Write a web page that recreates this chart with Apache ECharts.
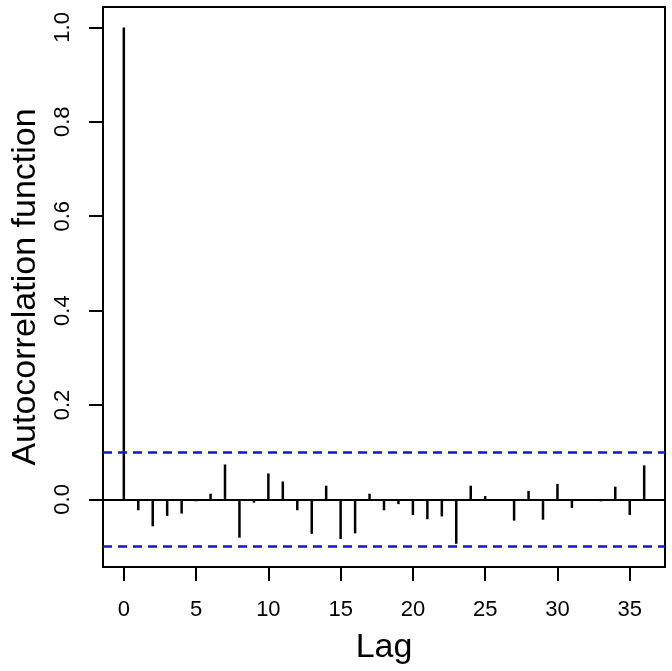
<!DOCTYPE html>
<html>
<head>
<meta charset="utf-8">
<script src="https://cdn.jsdelivr.net/npm/echarts@6/dist/echarts.min.js"></script>
<style>html,body{margin:0;padding:0;background:#fff;}#c{width:672px;height:671px;}</style>
</head>
<body>
<div id="c"></div>
<script>
var lags = [0,1,2,3,4,5,6,7,8,9,10,11,12,13,14,15,16,17,18,19,20,21,22,23,24,25,26,27,28,29,30,31,32,33,34,35,36];
var acfValues = [1.000,-0.023,-0.057,-0.035,-0.030,-0.004,0.012,0.074,-0.081,-0.007,0.055,0.038,-0.023,-0.073,0.029,-0.084,-0.072,0.012,-0.023,-0.010,-0.033,-0.042,-0.036,-0.094,0.029,0.007,-0.002,-0.045,0.018,-0.043,0.033,-0.018,-0.002,-0.004,0.027,-0.033,0.072];
var ciBound = 0.099;
var xTicks = [0,5,10,15,20,25,30,35];
var yTicks = [0,0.2,0.4,0.6,0.8,1.0];

var data = lags.map(function(l,i){return [l, acfValues[i]];});
var font = 'Liberation Sans, Arial, sans-serif';
var chart = echarts.init(document.getElementById('c'));
chart.setOption({
  animation: false,
  grid: {left: 103, right: 7, top: 7, bottom: 104, show: true, borderColor: '#000', borderWidth: 2, backgroundColor: 'transparent'},
  xAxis: {
    type: 'value', min: -1.44, max: 37.44,
    name: 'Lag', nameLocation: 'middle', nameGap: 64,
    nameTextStyle: {fontFamily: font, fontSize: 34, color: '#000'},
    splitLine: {show: false},
    axisLine: {show: false, onZero: false},
    axisTick: {show: true, inside: false, length: 14, customValues: xTicks, lineStyle: {color: '#000', width: 2}},
    axisLabel: {customValues: xTicks, fontFamily: font, fontSize: 22, color: '#000', margin: 32}
  },
  yAxis: {
    type: 'value', min: -0.1432, max: 1.0432,
    name: 'Autocorrelation function', nameLocation: 'middle', nameGap: 60,
    nameTextStyle: {fontFamily: font, fontSize: 34, color: '#000'},
    splitLine: {show: false},
    axisLine: {show: false, onZero: false},
    axisTick: {show: true, inside: false, length: 14, customValues: yTicks, lineStyle: {color: '#000', width: 2}},
    axisLabel: {customValues: yTicks, rotate: 90, fontFamily: font, fontSize: 22, color: '#000', margin: 29,
      formatter: function(v){return v.toFixed(1);}}
  },
  series: [{
    type: 'bar',
    data: data,
    barWidth: 2.5,
    itemStyle: {color: '#000'},
    markLine: {
      silent: true, symbol: 'none', label: {show: false},
      data: [
        {yAxis: 0, lineStyle: {color: '#000', width: 2, type: 'solid'}},
        {yAxis: ciBound, lineStyle: {color: '#1414d2', width: 2.5, type: [9, 6]}},
        {yAxis: -ciBound, lineStyle: {color: '#1414d2', width: 2.5, type: [9, 6]}}
      ]
    }
  }]
});
</script>
</body>
</html>
